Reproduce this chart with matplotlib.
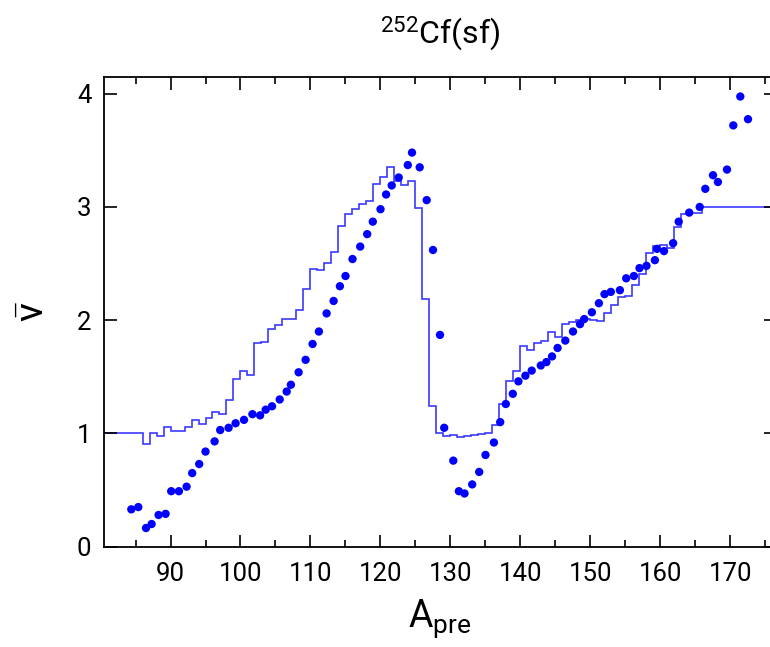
import matplotlib
matplotlib.use("Agg")
import matplotlib.pyplot as plt
import numpy as np

plt.rcParams['font.family'] = ['Roboto', 'DejaVu Sans']
plt.rcParams['mathtext.fontset'] = 'custom'
plt.rcParams['mathtext.rm'] = 'Roboto'
plt.rcParams['mathtext.it'] = 'Roboto:italic'

# Measured points (dots)
A_pts = [84.4, 85.4, 86.5, 87.3, 88.3, 89.3, 90.1, 91.2, 92.3, 93.1, 94.1, 95.0,
         96.3, 97.1, 98.3, 99.3, 100.5, 101.7, 102.8, 103.6, 104.5, 105.6, 106.6,
         107.2, 108.3, 109.3, 110.3, 111.2, 112.3, 113.3, 114.2, 115.0, 116.0,
         117.1, 118.1, 118.9, 120.0, 120.8, 121.6, 122.6, 123.9, 124.5, 125.6,
         126.6, 127.5, 128.5, 129.1, 130.4, 131.2, 132.0, 133.1, 134.1, 135.0,
         136.2, 137.1, 137.9, 138.9, 139.7, 140.7, 141.6, 142.9, 143.7, 144.5,
         145.3, 146.4, 147.5, 148.5, 149.1, 150.2, 151.2, 152.0, 152.9, 154.2,
         155.1, 156.2, 157.0, 158.0, 159.2, 159.5, 160.5, 161.8, 162.6, 164.1,
         165.6, 166.4, 167.5, 168.2, 169.5, 170.4, 171.4, 172.5]
nu_pts = [0.33, 0.35, 0.165, 0.20, 0.28, 0.29, 0.49, 0.49, 0.53, 0.65, 0.73, 0.84,
          0.93, 1.03, 1.05, 1.09, 1.12, 1.17, 1.16, 1.21, 1.24, 1.30, 1.37,
          1.43, 1.54, 1.65, 1.79, 1.90, 2.06, 2.17, 2.30, 2.39, 2.54,
          2.65, 2.76, 2.87, 2.98, 3.11, 3.19, 3.26, 3.37, 3.48, 3.35,
          3.06, 2.62, 1.87, 1.05, 0.76, 0.49, 0.47, 0.55, 0.66, 0.81,
          0.92, 1.10, 1.26, 1.35, 1.46, 1.51, 1.555, 1.60, 1.63, 1.68,
          1.755, 1.82, 1.90, 1.965, 2.01, 2.07, 2.15, 2.23, 2.25, 2.265,
          2.37, 2.39, 2.46, 2.48, 2.53, 2.63, 2.61, 2.68, 2.87, 2.95,
          3.00, 3.16, 3.28, 3.22, 3.33, 3.72, 3.975, 3.775]

# Calculated histogram (1-unit bins)
A_edges = list(range(80, 178))
nu_hist = [1.0, 1.0, 1.0, 1.0, 1.0, 1.0,            # 80-85
           0.907, 1.0, 0.975, 1.057, 1.02, 1.02,     # 86-91
           1.057, 1.115, 1.08, 1.137, 1.187, 1.17,   # 92-97
           1.296, 1.484, 1.549, 1.517, 1.80, 1.81,   # 98-103
           1.926, 1.96, 2.01, 2.01, 2.09, 2.276,     # 104-109
           2.45, 2.44, 2.506, 2.60, 2.83, 2.94,      # 110-115
           2.98, 3.03, 3.05, 3.20, 3.26, 3.355,      # 116-121
           3.23, 3.19, 3.23, 2.995, 2.185, 1.243,    # 122-127
           1.0, 0.978, 0.983, 0.969, 0.975, 0.987,   # 128-133
           0.996, 1.007, 1.075, 1.26, 1.467, 1.549,  # 134-139
           1.776, 1.738, 1.797, 1.82, 1.894, 1.85,   # 140-145
           1.967, 1.982, 2.003, 2.01, 2.0, 1.995,    # 146-151
           2.06, 2.135, 2.203, 2.215, 2.31, 2.41,    # 152-157
           2.59, 2.656, 2.66, 2.64, 2.82, 2.94,      # 158-163
           2.95, 2.95, 3.0, 3.0, 3.0, 3.0,           # 164-169
           3.0, 3.0, 3.0, 3.0, 3.0, 3.0, 3.0]        # 170-176

x_major = [90, 100, 110, 120, 130, 140, 150, 160, 170]
y_major = [0, 1, 2, 3, 4]

fig = plt.figure(figsize=(7.7, 6.47), dpi=100)
ax = fig.add_axes([104/770, 1 - 546.7/647, 672/770, (546.7 - 76.7)/647])

ax.stairs(nu_hist, A_edges, color='#3a3aff', lw=1.2, baseline=None)
ax.scatter(A_pts, nu_pts, s=36, color='#0000ff', edgecolors='none', zorder=3, clip_on=False)

ax.set_xlim(80.5, 176.5)
ax.set_ylim(0, 4.15)
ax.set_xticks(x_major)
ax.set_xticks(np.arange(85, 180, 10), minor=True)
ax.set_yticks(y_major)

for s in ax.spines.values():
    s.set_linewidth(1.3)
ax.tick_params(which='both', direction='in', top=True, right=True, width=1.2, labelsize=18.5)
ax.tick_params(which='major', length=9, pad=11)
ax.tick_params(axis='y', which='major', pad=9)
ax.tick_params(which='minor', length=5.3)

ax.set_title(r'$^{252}$Cf(sf)', fontsize=23, pad=24)
ax.set_xlabel(r'A$_{\mathrm{pre}}$', fontsize=27, labelpad=8)
ax.set_ylabel(r'$\bar{\mathrm{\nu}}$', fontsize=28, labelpad=18)

fig.savefig('out.png', dpi=100)
